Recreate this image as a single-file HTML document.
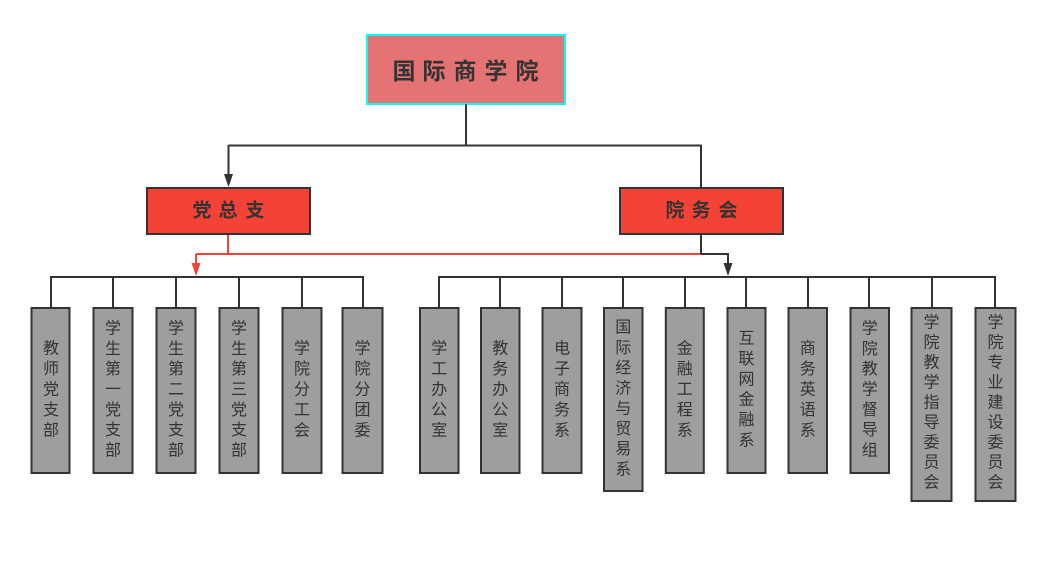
<!DOCTYPE html>
<html><head><meta charset="utf-8">
<style>
html,body{margin:0;padding:0;background:#fff;}
svg{display:block;}
text{font-family:"Liberation Sans","Noto Sans CJK SC","WenQuanYi Zen Hei",sans-serif;}
.big{font-weight:bold;fill:#333;}
.sm{font-size:16px;fill:#333;}
</style></head>
<body>
<svg width="1053" height="566" viewBox="0 0 1053 566" xmlns="http://www.w3.org/2000/svg">
<rect width="1053" height="566" fill="#fff"/>
<!-- top box -->
<rect x="367" y="35" width="198" height="69" fill="#e57373" stroke="#00ffff" stroke-width="2"/>
<g class="big" font-size="23" text-anchor="middle" dominant-baseline="central">
<text x="404" y="71">国</text><text x="434" y="71">际</text><text x="465" y="71">商</text><text x="496" y="71">学</text><text x="527" y="71">院</text>
</g>
<!-- top connectors -->
<g stroke="#333" stroke-width="2" fill="none">
<path d="M466 104 V145.5 M228.5 145.5 H701.5 M701 145 V188 M228.5 145 V176"/>
</g>
<polygon points="224,174 233,174 228.5,187" fill="#333"/>
<!-- second-level boxes -->
<rect x="147" y="188" width="163" height="46" fill="#f44336" stroke="#333" stroke-width="2"/>
<rect x="620" y="188" width="163" height="46" fill="#f44336" stroke="#333" stroke-width="2"/>
<g class="big" font-size="19" text-anchor="middle" dominant-baseline="central">
<text x="202" y="211">党</text><text x="228" y="211">总</text><text x="255" y="211">支</text>
<text x="675" y="211">院</text><text x="701" y="211">务</text><text x="728" y="211">会</text>
</g>
<!-- red connector -->
<g stroke="#f44336" stroke-width="2" fill="none">
<path d="M228 235 V254 M196 254 H702 M196 254 V265"/>
</g>
<polygon points="191.5,263 200.5,263 196,276" fill="#f44336"/>
<!-- black connector from 院务会 -->
<g stroke="#333" stroke-width="2" fill="none">
<path d="M701 235 V254 M701 254 H728 V265"/>
</g>
<polygon points="723.5,263 732.5,263 728,276" fill="#333"/>
<!-- buses -->
<g stroke="#333" stroke-width="2" fill="none">
<path d="M50 277 H364"/>
<path d="M438 277 H996"/>
<path d="M51 277 V307 M113 277 V307 M176 277 V307 M239 277 V307 M302 277 V307 M363 277 V307"/>
<path d="M439 277 V307 M500 277 V307 M562 277 V307 M623 277 V307 M685 277 V307 M746 277 V307 M808 277 V307 M869 277 V307 M932 277 V307 M995 277 V307"/>
</g>
<!-- leaf boxes -->
<g fill="#9e9e9e" stroke="#333" stroke-width="2">
<rect x="31.5" y="308" width="38" height="165"/>
<rect x="93.5" y="308" width="39" height="165"/>
<rect x="156.5" y="308" width="39" height="165"/>
<rect x="219.5" y="308" width="39" height="165"/>
<rect x="282.5" y="308" width="39" height="165"/>
<rect x="342.5" y="308" width="40" height="165"/>
<rect x="420" y="308" width="38.5" height="165"/>
<rect x="481" y="308" width="38.5" height="165"/>
<rect x="542.5" y="308" width="39" height="165"/>
<rect x="604" y="308" width="38.5" height="183"/>
<rect x="665.8" y="308" width="38" height="165"/>
<rect x="727.5" y="308" width="38" height="165"/>
<rect x="788.5" y="308" width="38.5" height="165"/>
<rect x="850.5" y="308" width="38.5" height="165"/>
<rect x="911.5" y="308" width="40" height="193"/>
<rect x="975.5" y="308" width="40" height="193"/>
</g>
<g class="sm" text-anchor="middle" dominant-baseline="central">
<!-- 教师党支部 center 390, 5 chars -->
<text x="51" y="349">教</text><text x="51" y="369.5">师</text><text x="51" y="390">党</text><text x="51" y="410.5">支</text><text x="51" y="431">部</text>
<!-- 学生第一党支部 7 chars -->
<text x="113" y="329">学</text><text x="113" y="349.3">生</text><text x="113" y="369.6">第</text><text x="113" y="390">一</text><text x="113" y="410.3">党</text><text x="113" y="430.6">支</text><text x="113" y="451">部</text>
<text x="176" y="329">学</text><text x="176" y="349.3">生</text><text x="176" y="369.6">第</text><text x="176" y="390">二</text><text x="176" y="410.3">党</text><text x="176" y="430.6">支</text><text x="176" y="451">部</text>
<text x="239" y="329">学</text><text x="239" y="349.3">生</text><text x="239" y="369.6">第</text><text x="239" y="390">三</text><text x="239" y="410.3">党</text><text x="239" y="430.6">支</text><text x="239" y="451">部</text>
<!-- 学院分工会 -->
<text x="302" y="349">学</text><text x="302" y="369.5">院</text><text x="302" y="390">分</text><text x="302" y="410.5">工</text><text x="302" y="431">会</text>
<text x="362.5" y="349">学</text><text x="362.5" y="369.5">院</text><text x="362.5" y="390">分</text><text x="362.5" y="410.5">团</text><text x="362.5" y="431">委</text>
<!-- right -->
<text x="439.3" y="349">学</text><text x="439.3" y="369.5">工</text><text x="439.3" y="390">办</text><text x="439.3" y="410.5">公</text><text x="439.3" y="431">室</text>
<text x="500.3" y="349">教</text><text x="500.3" y="369.5">务</text><text x="500.3" y="390">办</text><text x="500.3" y="410.5">公</text><text x="500.3" y="431">室</text>
<text x="562" y="349">电</text><text x="562" y="369.5">子</text><text x="562" y="390">商</text><text x="562" y="410.5">务</text><text x="562" y="431">系</text>
<!-- 国际经济与贸易系 8 chars center 399 -->
<text x="623.3" y="328">国</text><text x="623.3" y="348.3">际</text><text x="623.3" y="368.6">经</text><text x="623.3" y="388.9">济</text><text x="623.3" y="409.1">与</text><text x="623.3" y="429.4">贸</text><text x="623.3" y="449.7">易</text><text x="623.3" y="470">系</text>
<text x="684.7" y="349">金</text><text x="684.7" y="369.5">融</text><text x="684.7" y="390">工</text><text x="684.7" y="410.5">程</text><text x="684.7" y="431">系</text>
<!-- 互联网金融系 6 chars -->
<text x="746.5" y="339">互</text><text x="746.5" y="359.5">联</text><text x="746.5" y="380">网</text><text x="746.5" y="400">金</text><text x="746.5" y="420.5">融</text><text x="746.5" y="441">系</text>
<text x="807.7" y="349">商</text><text x="807.7" y="369.5">务</text><text x="807.7" y="390">英</text><text x="807.7" y="410.5">语</text><text x="807.7" y="431">系</text>
<!-- 学院教学督导组 7 chars -->
<text x="869.7" y="329">学</text><text x="869.7" y="349.3">院</text><text x="869.7" y="369.6">教</text><text x="869.7" y="390">学</text><text x="869.7" y="410.3">督</text><text x="869.7" y="430.6">导</text><text x="869.7" y="451">组</text>
<!-- 学院教学指导委员会 9 chars center 404 -->
<text x="931.5" y="323">学</text><text x="931.5" y="343">院</text><text x="931.5" y="363">教</text><text x="931.5" y="383">学</text><text x="931.5" y="403">指</text><text x="931.5" y="423">导</text><text x="931.5" y="443">委</text><text x="931.5" y="463">员</text><text x="931.5" y="483">会</text>
<text x="995.5" y="323">学</text><text x="995.5" y="343">院</text><text x="995.5" y="363">专</text><text x="995.5" y="383">业</text><text x="995.5" y="403">建</text><text x="995.5" y="423">设</text><text x="995.5" y="443">委</text><text x="995.5" y="463">员</text><text x="995.5" y="483">会</text>
</g>
</svg>
</body></html>
